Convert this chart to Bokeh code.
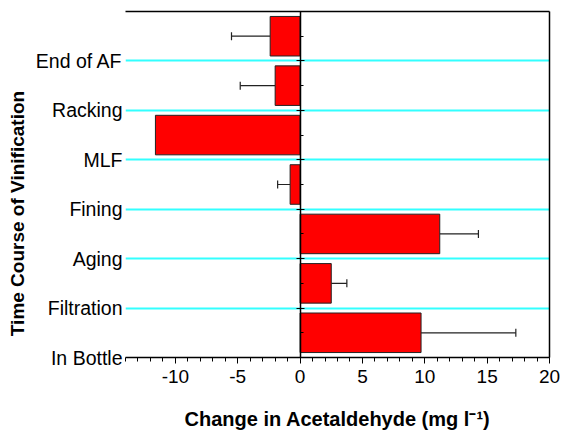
from bokeh.plotting import figure
from bokeh.models import (LinearAxis, FixedTicker, Range1d, ColumnDataSource,
                          Whisker, TeeHead)
from bokeh.embed import file_html
from bokeh.resources import INLINE

# ---- data ----
stage_labels = ["In Bottle", "Filtration", "Aging", "Fining", "MLF", "Racking", "End of AF"]
changes = [9.7, 2.5, 11.2, -0.8, -11.6, -2.0, -2.4]
errors = [7.6, 1.25, 3.1, 1.0, 0.0, 2.8, 3.1]
x_ticks = [-10, -5, 0, 5, 10, 15, 20]
x_tick_labels = ["-10", "-5", "0", "5", "10", "15", "20"]

FONT = "Liberation Sans"

n = len(stage_labels)
bar_pos = [i + 0.5 for i in range(n)]
stage_ticks = list(range(n))

src = ColumnDataSource(dict(y=bar_pos, right=changes))

err_y = [p for p, e in zip(bar_pos, errors) if e > 0]
err_lo = [c for c, e in zip(changes, errors) if e > 0]
err_hi = [c + (e if c >= 0 else -e) for c, e in zip(changes, errors) if e > 0]
esrc = ColumnDataSource(dict(y=err_y, lower=err_lo, upper=err_hi))

p = figure(frame_width=424, frame_height=346,
           x_range=Range1d(-14, 20), y_range=Range1d(0, n),
           output_backend="svg", toolbar_location=None,
           min_border_left=125, min_border_right=14,
           min_border_top=11, min_border_bottom=73)
p.outline_line_color = None
p.background_fill_color = "white"
p.border_fill_color = "white"

# grid
p.xgrid.visible = False
p.ygrid.ticker = FixedTicker(ticks=stage_ticks[1:])
p.ygrid.grid_line_color = "#33FFFF"
p.ygrid.grid_line_width = 2

# bars
p.hbar(y="y", left=0, right="right", height=0.8, source=src,
       fill_color="#FF0000", line_color="#222222", line_width=1)

# error bars (one-sided)
w = Whisker(dimension="width", base="y", lower="lower", upper="upper", source=esrc,
            line_color="#222222", line_width=1.2,
            lower_head=None,
            upper_head=TeeHead(size=8, line_color="#222222", line_width=1.2))
p.add_layout(w)

# bottom axis
xa = p.xaxis[0]
xa.ticker = FixedTicker(ticks=x_ticks, minor_ticks=list(range(-14, 21)))
xa.major_label_overrides = {t: l for t, l in zip(x_ticks, x_tick_labels)}
xa.major_tick_in = 0
xa.major_tick_out = 6
xa.minor_tick_in = 0
xa.minor_tick_out = 4
xa.axis_line_width = 1.5
xa.major_label_text_font = FONT
xa.major_label_text_font_size = "19px"
xa.major_label_text_color = "black"
xa.major_label_standoff = 6
xa.axis_label = "Change in Acetaldehyde (mg l\u207b\u00b9)"
xa.axis_label_text_font = FONT
xa.axis_label_text_font_style = "bold"
xa.axis_label_text_font_size = "20px"
xa.axis_label_text_color = "black"
xa.axis_label_standoff = 22

# left labels axis
ya = p.yaxis[0]
ya.ticker = FixedTicker(ticks=stage_ticks)
ya.major_label_overrides = {t: l for t, l in zip(stage_ticks, stage_labels)}
ya.major_tick_in = 0
ya.major_tick_out = 0
ya.minor_tick_line_color = None
ya.axis_line_color = None
ya.major_label_text_font = FONT
ya.major_label_text_font_size = "19.5px"
ya.major_label_text_color = "black"
ya.major_label_standoff = 3
# trailing no-break spaces shift the centred title toward the bottom, as in the original
ya.axis_label = "Time Course of Vinification" + "\u00a0" * 11
ya.axis_label_text_font = FONT
ya.axis_label_text_font_style = "bold"
ya.axis_label_text_font_size = "19px"
ya.axis_label_text_color = "black"
ya.axis_label_standoff = 5

# zero axis (line at x = 0 with ticks, no labels)
zero_ticks = list(range(n + 1))
za = LinearAxis(fixed_location=0,
                ticker=FixedTicker(ticks=zero_ticks, minor_ticks=bar_pos))
za.major_label_overrides = {t: "" for t in zero_ticks}
za.major_label_standoff = 0
za.major_tick_in = 4
za.major_tick_out = 4
za.minor_tick_in = 3
za.minor_tick_out = 0
za.axis_line_width = 1.5
p.add_layout(za, "left")

# top and right frame lines
ta = LinearAxis(ticker=FixedTicker(ticks=[]))
ta.major_label_standoff = 0
ta.major_tick_out = 0
ta.minor_tick_out = 0
ta.axis_line_width = 1.5
p.add_layout(ta, "above")

ra = LinearAxis(ticker=FixedTicker(ticks=[]))
ra.major_label_standoff = 0
ra.major_tick_out = 0
ra.minor_tick_out = 0
ra.axis_line_width = 1.5
p.add_layout(ra, "right")

open("out.html", "w").write(file_html(p, INLINE))
